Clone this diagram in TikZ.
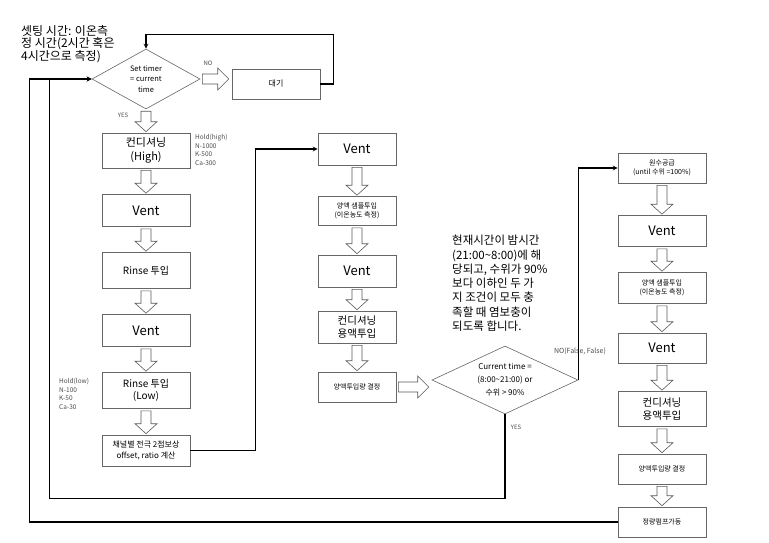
\documentclass[tikz,border=0pt]{standalone}
\usepackage{fontspec}
\setmainfont{Noto Sans CJK KR}
\usetikzlibrary{arrows,positioning,shapes.geometric,calc}

\newcommand{\fsz}[2]{\fontsize{#1}{#2}\selectfont}
% hollow block arrows between two nodes
\newcommand{\hollowdown}[2]{%
  \draw[hollow] let \p1=(#1.south), \p2=(#2.north) in
    (\x1-5pt,\y1-2pt) -- (\x1-5pt,\y2+11pt) -- (\x1-11pt,\y2+11pt) -- (\x1,\y2+1pt)
    -- (\x1+11pt,\y2+11pt) -- (\x1+5pt,\y2+11pt) -- (\x1+5pt,\y1-2pt) -- cycle;}
\newcommand{\hollowright}[2]{%
  \draw[hollow] let \p1=(#1.east), \p2=(#2.west) in
    (\x1+2pt,\y1+5pt) -- (\x2-14pt,\y1+5pt) -- (\x2-14pt,\y1+11pt) -- (\x2-3pt,\y1)
    -- (\x2-14pt,\y1-11pt) -- (\x2-14pt,\y1-5pt) -- (\x1+2pt,\y1-5pt) -- cycle;}

\begin{document}
\begin{tikzpicture}[x=1pt,y=-1pt,>=stealth,node distance=60pt,on grid,
  box/.style={draw=gray!80!black,line width=0.6pt,minimum width=88pt,minimum height=32pt,
              align=center,inner sep=1pt,font=\fsz{10}{12}},
  big/.style={box,font=\fsz{13}{15}},
  small/.style={box,font=\fsz{7}{9.5},minimum height=30pt},
  mid/.style={minimum width=78pt},
  decision/.style={draw=gray!80!black,line width=0.6pt,diamond,inner sep=0pt,align=center},
  conn/.style={line width=1.2pt},
  hollow/.style={draw=gray!70!black,fill=white,line width=0.6pt,line join=miter},
  tag/.style={font=\fsz{6}{7},text=gray!60!black,inner sep=0pt},
  note/.style={align=left,inner sep=0pt,anchor=north west}]
  \useasboundingbox (0,0) rectangle (769,543);

  % notes
  \node[note,font=\fsz{12}{12.5}] (caption) at (21,25) {셋팅 시간: 이온측\\정 시간(2시간 혹은\\4시간으로 측정)};
  \node[note,font=\fsz{11.5}{14.3}] (memo) at (452,235) {현재시간이 밤시간\\(21:00\textasciitilde8:00)에 해\\당되고, 수위가 90\%\\보다 이하인 두 가\\지 조건이 모두 충\\족할 때 염보충이\\되도록 합니다.};
  \node[note,font=\fsz{6.5}{8.5},text=gray!60!black] (holdhigh) at (195,134) {Hold(high)\\N-1000\\K-500\\Ca-300};
  \node[note,font=\fsz{6.5}{8.5},text=gray!60!black] (holdlow) at (59,378) {Hold(low)\\N-100\\K-50\\Ca-30};

  % first column
  \node[decision,aspect=1.8,minimum width=108pt,minimum height=60pt,font=\fsz{7.5}{10.5}] (timer) at (146,79) {Set timer\\= current\\time};
  \node[small,font=\fsz{8}{10}] (wait) at (276,84) {대기};
  \node[box,font=\fsz{11}{14},minimum height=35pt] (cond1) [below=71.5pt of timer] {컨디셔닝\\(High)};
  \node[big]            (vent1)  [below=of cond1]  {Vent};
  \node[box,minimum height=36pt] (rinse1) [below=of vent1]  {Rinse 투입};
  \node[big]            (vent2)  [below=of rinse1] {Vent};
  \node[box,minimum height=36pt] (rinse2) [below=of vent2]  {Rinse 투입\\(Low)};
  \node[small,font=\fsz{8}{11},minimum height=31pt] (calc) [below=of rinse2] {채널별 전극 2점보상\\offset, ratio 계산};

  % second column
  \node[big,mid]        (vent3)   at (357,149)          {Vent};
  \node[small,mid,minimum height=29pt] (sample1) [below=62pt of vent3] {양액 샘플투입\\(이온농도 측정)};
  \node[big,mid]        (vent4)   [below=of sample1]  {Vent};
  \node[box,mid,font=\fsz{10.5}{13}] (cond2) [below=56pt of vent4] {컨디셔닝\\용액투입};
  \node[small,mid]      (dose1)   [below=of cond2]    {양액투입량 결정};
  \node[decision,aspect=2.15,minimum width=146pt,minimum height=68pt,font=\fsz{8}{13}] (check) at (505,380) {Current time =\\(8:00\textasciitilde21:00) or\\수위 > 90\%};

  % third column
  \node[small]          (supply)  at (662,168)          {원수공급\\(until 수위 =100\%)};
  \node[big,minimum height=31pt] (vent5) [below=63pt of supply] {Vent};
  \node[small,minimum height=31pt] (sample2) [below=57pt of vent5] {양액 샘플투입\\(이온농도 측정)};
  \node[big,minimum height=30pt] (vent6) [below=of sample2] {Vent};
  \node[box,font=\fsz{10.5}{13},minimum height=35pt] (cond3) [below=61pt of vent6] {컨디셔닝\\용액투입};
  \node[small]          (dose2)   [below=of cond3]    {양액투입량 결정};
  \node[small]          (pump)    [below=53pt of dose2] {정량펌프가동};

  % labels
  \node[tag] (yes1) at (123,115) {YES};
  \node[tag] (no1)  at (208,63)  {NO};
  \node[tag,font=\fsz{7}{8}] (no2) at (580,351) {NO(False, False)};
  \node[tag] (yes2) at (516,427) {YES};

  % block arrows
  \hollowdown{timer}{cond1}
  \hollowright{timer}{wait}
  \hollowdown{cond1}{vent1}
  \hollowdown{vent1}{rinse1}
  \hollowdown{rinse1}{vent2}
  \hollowdown{vent2}{rinse2}
  \hollowdown{rinse2}{calc}
  \hollowdown{vent3}{sample1}
  \hollowdown{sample1}{vent4}
  \hollowdown{vent4}{cond2}
  \hollowdown{cond2}{dose1}
  \hollowright{dose1}{check}
  \hollowdown{supply}{vent5}
  \hollowdown{vent5}{sample2}
  \hollowdown{sample2}{vent6}
  \hollowdown{vent6}{cond3}
  \hollowdown{cond3}{dose2}
  \hollowdown{dose2}{pump}

  % connectors
  \draw[conn,->] (wait.east) -- ++(13,0) |- ([yshift=14pt]timer.north) -- (timer.north);
  \draw[conn,->] (calc.east) -- ++(65,0) |- (vent3.west);
  \draw[conn,->] (check.east) |- (supply.west);
  \draw[conn,->] (check.south) -- ++(0,84) -| ([xshift=-42pt]timer.west) -- (timer.west);
  \draw[conn,->] (pump.west) -| ([xshift=-62pt]timer.west) -- (timer.west);
\end{tikzpicture}
\end{document}
